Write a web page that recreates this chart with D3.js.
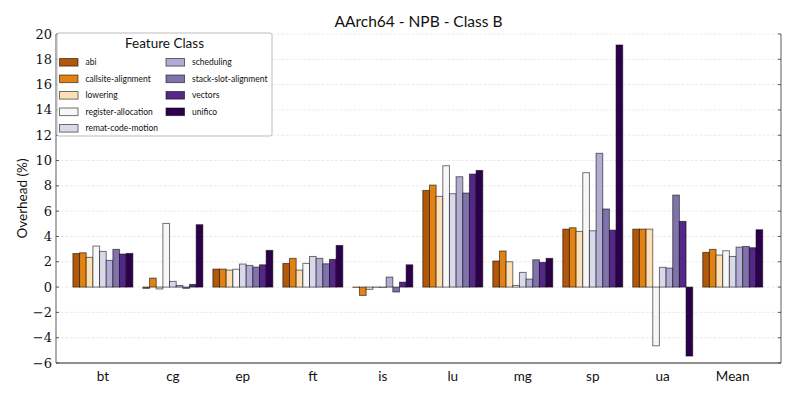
<!DOCTYPE html>
<html lang="en">
<head>
    <meta charset="UTF-8">
    <script src="https://d3js.org/d3.v7.min.js"></script>
    <title>AArch64 - NPB - Class B</title>
    <style>
        body { margin: 0; background: #fff; }
    </style>
</head>
<body>
    <div id='canvas'></div>
</body>
<script>
    const benchmarks = ["bt","cg","ep","ft","is","lu","mg","sp","ua","Mean"]
    const features = ["abi","callsite-alignment","lowering","register-allocation","remat-code-motion",
                      "scheduling","stack-slot-alignment","vectors","unifico"]
    const colors = ["#b35806","#e08214","#fee0b6","#f7f7f7","#d8daeb","#b2abd2","#8073ac","#542788","#2d004b"]
    // overhead (%) per feature, one value per benchmark
    const abi       = [2.65,-0.1,1.42,1.87,-0.02,7.64,2.06,4.58,4.58,2.74]
    const callsite  = [2.71,0.71,1.42,2.27,-0.66,8.06,2.85,4.69,4.58,2.98]
    const lowering  = [2.35,-0.15,1.34,1.34,-0.18,7.17,2.0,4.4,4.58,2.53]
    const regalloc  = [3.24,5.03,1.41,1.87,-0.02,9.59,0.13,9.04,-4.64,2.87]
    const remat     = [2.82,0.45,1.82,2.42,-0.03,7.38,1.16,4.45,1.56,2.42]
    const sched     = [2.11,0.13,1.71,2.27,0.79,8.72,0.63,10.57,1.5,3.16]
    const stackslot = [2.98,-0.1,1.58,1.84,-0.39,7.43,2.16,6.17,7.27,3.21]
    const vectors   = [2.61,0.21,1.76,2.19,0.39,8.93,1.95,4.5,5.19,3.11]
    const unifico   = [2.66,4.93,2.9,3.29,1.76,9.22,2.27,19.13,-5.45,4.53]
    const series = [abi,callsite,lowering,regalloc,remat,sched,stackslot,vectors,unifico]
    const yTicks = d3.range(-6,21,2)

    const W = 797, H = 399
    const mLeft = 56, mRight = 781, mTop = 34, mBottom = 363
    const svg = d3.select("#canvas").append("svg").attr("width",W).attr("height",H)
        .style("font-family","Lato, 'Noto Sans', sans-serif")

    const x = d3.scaleLinear().domain([-0.67,9.69]).range([mLeft,mRight])
    const y = d3.scaleLinear().domain([-6,20]).range([mBottom,mTop])
    const bw = 0.0952

    // grid
    svg.append("g").selectAll("line").data(yTicks.filter(d=>d>-6)).enter().append("line")
        .attr("x1",mLeft).attr("x2",mRight)
        .attr("y1",d=>y(d)).attr("y2",d=>y(d))
        .attr("stroke","#ebebeb").attr("stroke-width",1).attr("stroke-dasharray","3,1.5")

    // bars
    const bars = []
    series.forEach((vals,j)=>{
        vals.forEach((v,i)=>bars.push({i:i,j:j,v:v}))
    })
    svg.append("g").selectAll("rect").data(bars).enter().append("rect")
        .attr("x",d=>x(d.i+(d.j-4.5)*bw))
        .attr("width",x(bw)-x(0))
        .attr("y",d=>y(Math.max(0,d.v)))
        .attr("height",d=>Math.abs(y(d.v)-y(0)))
        .attr("fill",d=>colors[d.j])
        .attr("stroke","rgba(0,0,0,0.55)").attr("stroke-width",1)

    // spines
    svg.append("line").attr("x1",mLeft).attr("x2",mLeft).attr("y1",mTop).attr("y2",mBottom)
        .attr("stroke","#777").attr("stroke-width",1.2)
    svg.append("line").attr("x1",mRight).attr("x2",mRight).attr("y1",mTop).attr("y2",mBottom)
        .attr("stroke","#777").attr("stroke-width",1.2)
    svg.append("line").attr("x1",mLeft).attr("x2",mRight).attr("y1",mBottom).attr("y2",mBottom)
        .attr("stroke","#222").attr("stroke-width",1.2)

    // y ticks
    const yt = svg.append("g").selectAll("g").data(yTicks).enter().append("g")
    yt.append("line").attr("x1",mLeft).attr("x2",mLeft+3).attr("y1",d=>y(d)).attr("y2",d=>y(d))
        .attr("stroke","#555")
    yt.append("line").attr("x1",mRight-3).attr("x2",mRight).attr("y1",d=>y(d)).attr("y2",d=>y(d))
        .attr("stroke","#555")
    yt.append("text").attr("x",mLeft-4).attr("y",d=>y(d)).attr("dy","0.35em")
        .attr("text-anchor","end").attr("fill","#111")
        .style("font-family","'DejaVu Serif', serif").style("font-size","13px")
        .text(d=>d<0 ? "\u2212"+Math.abs(d) : d)

    // x labels
    svg.append("g").selectAll("text").data(benchmarks).enter().append("text")
        .attr("x",(d,i)=>x(i)).attr("y",381)
        .attr("text-anchor","middle").attr("font-size",13.5).attr("fill","#111")
        .text(d=>d)

    // title + y label
    svg.append("text").attr("x",(mLeft+mRight)/2).attr("y",27).attr("text-anchor","middle")
        .attr("font-size",15.5).attr("fill","#111").text("AArch64 - NPB - Class B")
    svg.append("text").attr("transform","translate(27,"+((mTop+mBottom)/2)+") rotate(-90)")
        .attr("text-anchor","middle").attr("font-size",13.5).attr("fill","#111").text("Overhead (%)")

    // legend
    const lg = svg.append("g")
    lg.append("rect").attr("x",57).attr("y",33).attr("width",215).attr("height",103).attr("rx",2)
        .attr("fill","#fff").attr("fill-opacity",0.9).attr("stroke","#bbb")
    lg.append("text").attr("x",164.5).attr("y",48).attr("text-anchor","middle")
        .attr("font-size",13.5).attr("fill","#111").text("Feature Class")
    const items = lg.selectAll("g.item").data(features).enter().append("g")
        .attr("transform",(d,i)=>"translate("+(i<5 ? 59.5 : 166)+","+(62.3+(i%5)*16.5)+")")
    items.append("rect").attr("x",0).attr("y",-3.8).attr("width",18.5).attr("height",7.6)
        .attr("fill",(d,i)=>colors[i]).attr("stroke","rgba(0,0,0,0.55)")
    items.append("text").attr("x",26).attr("y",0).attr("dy","0.35em")
        .attr("font-size",8.5).attr("fill","#111").text(d=>d)
</script>
</html>
